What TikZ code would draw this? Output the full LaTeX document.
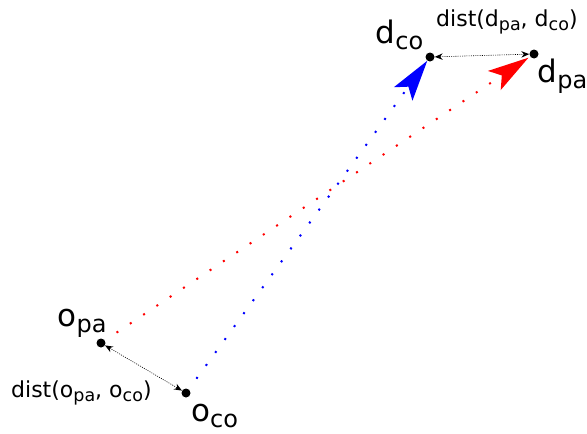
\documentclass[tikz,border=0pt]{standalone}
\usepackage{fontspec}
\setmainfont{DejaVu Sans}
\usetikzlibrary{arrows.meta}
\newcommand{\biglbl}[2]{\fontsize{31}{31}\selectfont #1\raisebox{-6pt}{\fontsize{24}{24}\selectfont #2}}
\newcommand{\smsub}[1]{\raisebox{-4.5pt}{\fontsize{17.5}{17.5}\selectfont #1}}
\tikzset{
  pt/.style={circle,fill=black,inner sep=0pt,minimum size=9pt},
  lbl/.style={anchor=base west,inner sep=0pt},
  dlbl/.style={anchor=base west,inner sep=0pt,font=\fontsize{22}{22}\selectfont},
  motion/.style={line width=2pt,dash pattern=on 2pt off 14pt,
     -{Stealth[length=41pt,width=23pt,inset=9pt,line width=0pt]}},
  distarrow/.style={line width=0.6pt,dash pattern=on 1pt off 1.2pt,
     {Stealth[length=8pt,width=6.5pt,line width=0pt]}-{Stealth[length=8pt,width=6.5pt,line width=0pt]}}
}
\begin{document}
\begin{tikzpicture}[x=1pt,y=-1pt]
\useasboundingbox (0,0) rectangle (587,434);
\node[pt] (opa) at (101,343) {};
\node[pt] (oco) at (186,393) {};
\node[pt] (dco) at (430,57) {};
\node[pt] (dpa) at (534,54) {};
\draw[motion,red,shorten <=14pt,shorten >=2pt] (opa) -- (dpa);
\draw[motion,blue,shorten <=13pt,shorten >=0pt] (oco) -- (dco);
\draw[distarrow] (dco) -- (dpa);
\draw[distarrow] (opa) -- (oco);
\node[lbl] (ldco) at (375.5,43) {\biglbl{d}{co}};
\node[lbl] (ldpa) at (537.5,82) {\biglbl{d}{pa}};
\node[lbl] (lopa) at (57.5,326.5) {\biglbl{o}{pa}};
\node[lbl] (loco) at (191,421) {\biglbl{o}{co}};
\node[dlbl] (ddist) at (436,26) {dist(d\smsub{pa}, d\smsub{co})};
\node[dlbl] (odist) at (11,397) {dist(o\smsub{pa}, o\smsub{co})};
\end{tikzpicture}
\end{document}
